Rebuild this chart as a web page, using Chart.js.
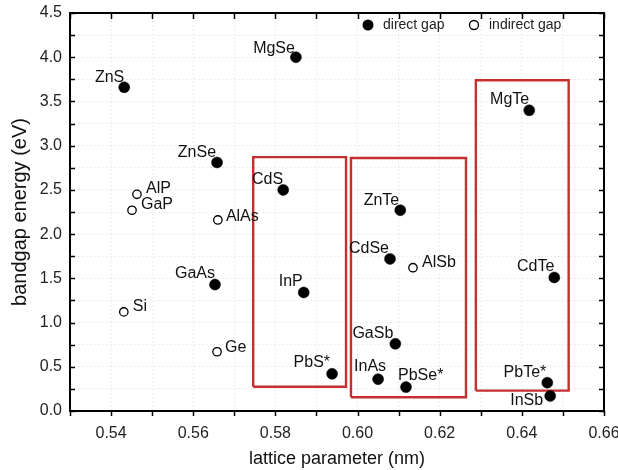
<!DOCTYPE html>
<html>
<head>
<meta charset="utf-8">
<script src="https://cdn.jsdelivr.net/npm/chart.js@4/dist/chart.umd.min.js"></script>
<style>
  html, body { margin: 0; padding: 0; background: #fff; }
  #wrap { width: 618px; height: 470px; }
</style>
</head>
<body>
<div id="wrap"><canvas id="gapChart" width="618" height="470"></canvas></div>
<script>
// direct gap semiconductors
const directNames = ['ZnS', 'MgSe', 'ZnSe', 'CdS', 'GaAs', 'InP', 'PbS*', 'ZnTe', 'CdSe', 'GaSb', 'InAs', 'PbSe*', 'MgTe', 'CdTe', 'PbTe*', 'InSb'];
const directLattice = [0.5432, 0.5850, 0.5658, 0.5819, 0.5653, 0.5869, 0.5938, 0.6104, 0.6079, 0.6092, 0.6050, 0.6118, 0.6418, 0.6479, 0.6462, 0.6469];
const directGap = [3.66, 4.00, 2.81, 2.50, 1.43, 1.34, 0.42, 2.27, 1.72, 0.76, 0.36, 0.27, 3.40, 1.51, 0.32, 0.17];

// indirect gap semiconductors
const indirectNames = ['AlP', 'GaP', 'AlAs', 'Si', 'Ge', 'AlSb'];
const indirectLattice = [0.5463, 0.5451, 0.5660, 0.5431, 0.5658, 0.6135];
const indirectGap = [2.45, 2.27, 2.16, 1.12, 0.67, 1.62];

// red boxes (lattice range x gap range)
const boxLeft = [0.5746, 0.5984, 0.6288];
const boxRight = [0.5972, 0.6264, 0.6514];
const boxTop = [2.87, 2.86, 3.74];
const boxBottom = [0.275, 0.155, 0.23];

// axis ticks
const xTickValues = [0.53, 0.54, 0.55, 0.56, 0.57, 0.58, 0.59, 0.60, 0.61, 0.62, 0.63, 0.64, 0.65, 0.66];
const yTickValues = [0, 0.25, 0.5, 0.75, 1, 1.25, 1.5, 1.75, 2, 2.25, 2.5, 2.75, 3, 3.25, 3.5, 3.75, 4, 4.25, 4.5];

// where each name sits next to its marker: [align, dx, dy]
const labelPos = {
    'ZnS': ['right', 0, -10], 'MgSe': ['right', -1, -9], 'ZnSe': ['right', -1, -10],
    'CdS': ['right', 0, -10], 'AlP': ['left', 9, -6], 'GaP': ['left', 9, -6],
    'AlAs': ['left', 8, -3], 'GaAs': ['right', 0, -11], 'InP': ['right', -1, -11],
    'Si': ['left', 9, -5], 'Ge': ['left', 8, -4], 'PbS*': ['right', -2, -11],
    'ZnTe': ['right', -1, -10], 'CdSe': ['right', -1, -10], 'AlSb': ['left', 9, -5],
    'GaSb': ['right', -2, -10], 'InAs': ['left', -24, -13], 'PbSe*': ['left', -8, -12],
    'MgTe': ['right', 0, -11], 'CdTe': ['right', 0, -11], 'PbTe*': ['right', -1, -10],
    'InSb': ['right', -7, 5]
};

const FONT = '"Liberation Sans", Arial, sans-serif';
const RED = '#c62f2f';

const directPts = directLattice.map((x, i) => ({ x: x, y: directGap[i] }));
const indirectPts = indirectLattice.map((x, i) => ({ x: x, y: indirectGap[i] }));

const boxSets = boxLeft.map((l, i) => ({
    label: 'box' + i,
    data: [
        { x: l, y: boxBottom[i] }, { x: l, y: boxTop[i] },
        { x: boxRight[i], y: boxTop[i] }, { x: boxRight[i], y: boxBottom[i] },
        { x: l, y: boxBottom[i] }
    ],
    showLine: true,
    borderColor: RED,
    borderWidth: 2.4,
    pointRadius: 0,
    fill: false,
    order: 5
}));

// no extra room for overhanging tick labels, the layout padding decides
function noPad(s) {
    s.paddingLeft = 0; s.paddingRight = 0;
    s.paddingTop = 0; s.paddingBottom = 0;
}

// frame, tick marks, point names and legend
const decorations = {
    id: 'decorations',
    afterDraw(chart) {
        const ctx = chart.ctx;
        const a = chart.chartArea;
        const xs = chart.scales.x, ys = chart.scales.y;
        ctx.save();
        ctx.strokeStyle = '#000';
        ctx.lineWidth = 2;
        ctx.strokeRect(a.left, a.top, a.right - a.left, a.bottom - a.top);

        ctx.lineWidth = 1.5;
        ctx.beginPath();
        xTickValues.forEach(v => {
            const px = Math.round(xs.getPixelForValue(v)) + 0.5;
            ctx.moveTo(px, a.bottom); ctx.lineTo(px, a.bottom + 5);
            ctx.moveTo(px, a.top); ctx.lineTo(px, a.top + 6);
        });
        yTickValues.forEach(v => {
            const py = Math.round(ys.getPixelForValue(v)) + 0.5;
            ctx.moveTo(a.left, py); ctx.lineTo(a.left + 5, py);
            ctx.moveTo(a.right, py); ctx.lineTo(a.right - 5, py);
        });
        ctx.stroke();

        // point names
        ctx.fillStyle = '#111';
        ctx.font = '16px ' + FONT;
        ctx.textBaseline = 'middle';
        [[0, directNames], [1, indirectNames]].forEach(([di, names]) => {
            const meta = chart.getDatasetMeta(di);
            meta.data.forEach((el, j) => {
                const p = labelPos[names[j]] || ['left', 8, -8];
                ctx.textAlign = p[0];
                ctx.fillText(names[j], el.x + p[1], el.y + p[2]);
            });
        });

        // legend inside the plot
        const ly = a.top + 12;
        ctx.font = '14px ' + FONT;
        ctx.textAlign = 'left';
        ctx.fillStyle = '#000';
        ctx.beginPath();
        ctx.arc(a.left + 298, ly, 5.5, 0, Math.PI * 2);
        ctx.fill();
        ctx.fillStyle = '#222';
        ctx.fillText('direct gap', a.left + 313, ly);
        ctx.beginPath();
        ctx.lineWidth = 1.3;
        ctx.strokeStyle = '#000';
        ctx.arc(a.left + 404, ly, 4.5, 0, Math.PI * 2);
        ctx.stroke();
        ctx.fillText('indirect gap', a.left + 419, ly);
        ctx.restore();
    }
};

new Chart(document.getElementById('gapChart').getContext('2d'), {
    type: 'scatter',
    data: {
        datasets: [
            {
                label: 'direct gap',
                data: directPts,
                pointRadius: 5.5,
                pointBackgroundColor: '#000',
                pointBorderColor: '#000',
                pointBorderWidth: 0.5,
                order: 1
            },
            {
                label: 'indirect gap',
                data: indirectPts,
                pointRadius: 4.2,
                pointBackgroundColor: '#fff',
                pointBorderColor: '#000',
                pointBorderWidth: 1.3,
                order: 1
            },
            ...boxSets
        ]
    },
    options: {
        responsive: false,
        animation: false,
        events: [],
        layout: { autoPadding: false, padding: { top: 13, right: 14, left: 0, bottom: 0 } },
        plugins: {
            legend: { display: false },
            tooltip: { enabled: false }
        },
        scales: {
            x: {
                type: 'linear',
                min: 0.53,
                max: 0.66,
                afterBuildTicks: s => { s.ticks = xTickValues.map(v => ({ value: v })); },
                afterFit: s => { s.height = 59; noPad(s); },
                ticks: {
                    autoSkip: false,
                    maxRotation: 0,
                    padding: 13,
                    color: '#222',
                    font: { family: FONT, size: 16 },
                    callback: v => (Math.round(v * 100) % 2 === 0 && v > 0.535) ? v.toFixed(2) : ''
                },
                grid: { color: 'rgba(0,0,0,0.07)', drawTicks: false },
                border: { display: false, dash: [2, 2] },
                title: {
                    display: true,
                    text: 'lattice parameter (nm)',
                    color: '#111',
                    font: { family: FONT, size: 18 },
                    padding: { top: 0, bottom: 0 }
                }
            },
            y: {
                type: 'linear',
                min: 0,
                max: 4.5,
                afterBuildTicks: s => { s.ticks = yTickValues.map(v => ({ value: v })); },
                afterFit: s => { s.width = 70; noPad(s); },
                ticks: {
                    autoSkip: false,
                    padding: 8,
                    color: '#222',
                    font: { family: FONT, size: 16 },
                    callback: v => (Math.round(v * 4) % 2 === 0) ? v.toFixed(1) : ''
                },
                grid: { color: 'rgba(0,0,0,0.07)', drawTicks: false },
                border: { display: false, dash: [2, 2] },
                title: {
                    display: true,
                    text: 'bandgap energy (eV)',
                    color: '#111',
                    font: { family: FONT, size: 20 },
                    padding: { top: 8, bottom: 0 }
                }
            }
        }
    },
    plugins: [decorations]
});
</script>
</body>
</html>
